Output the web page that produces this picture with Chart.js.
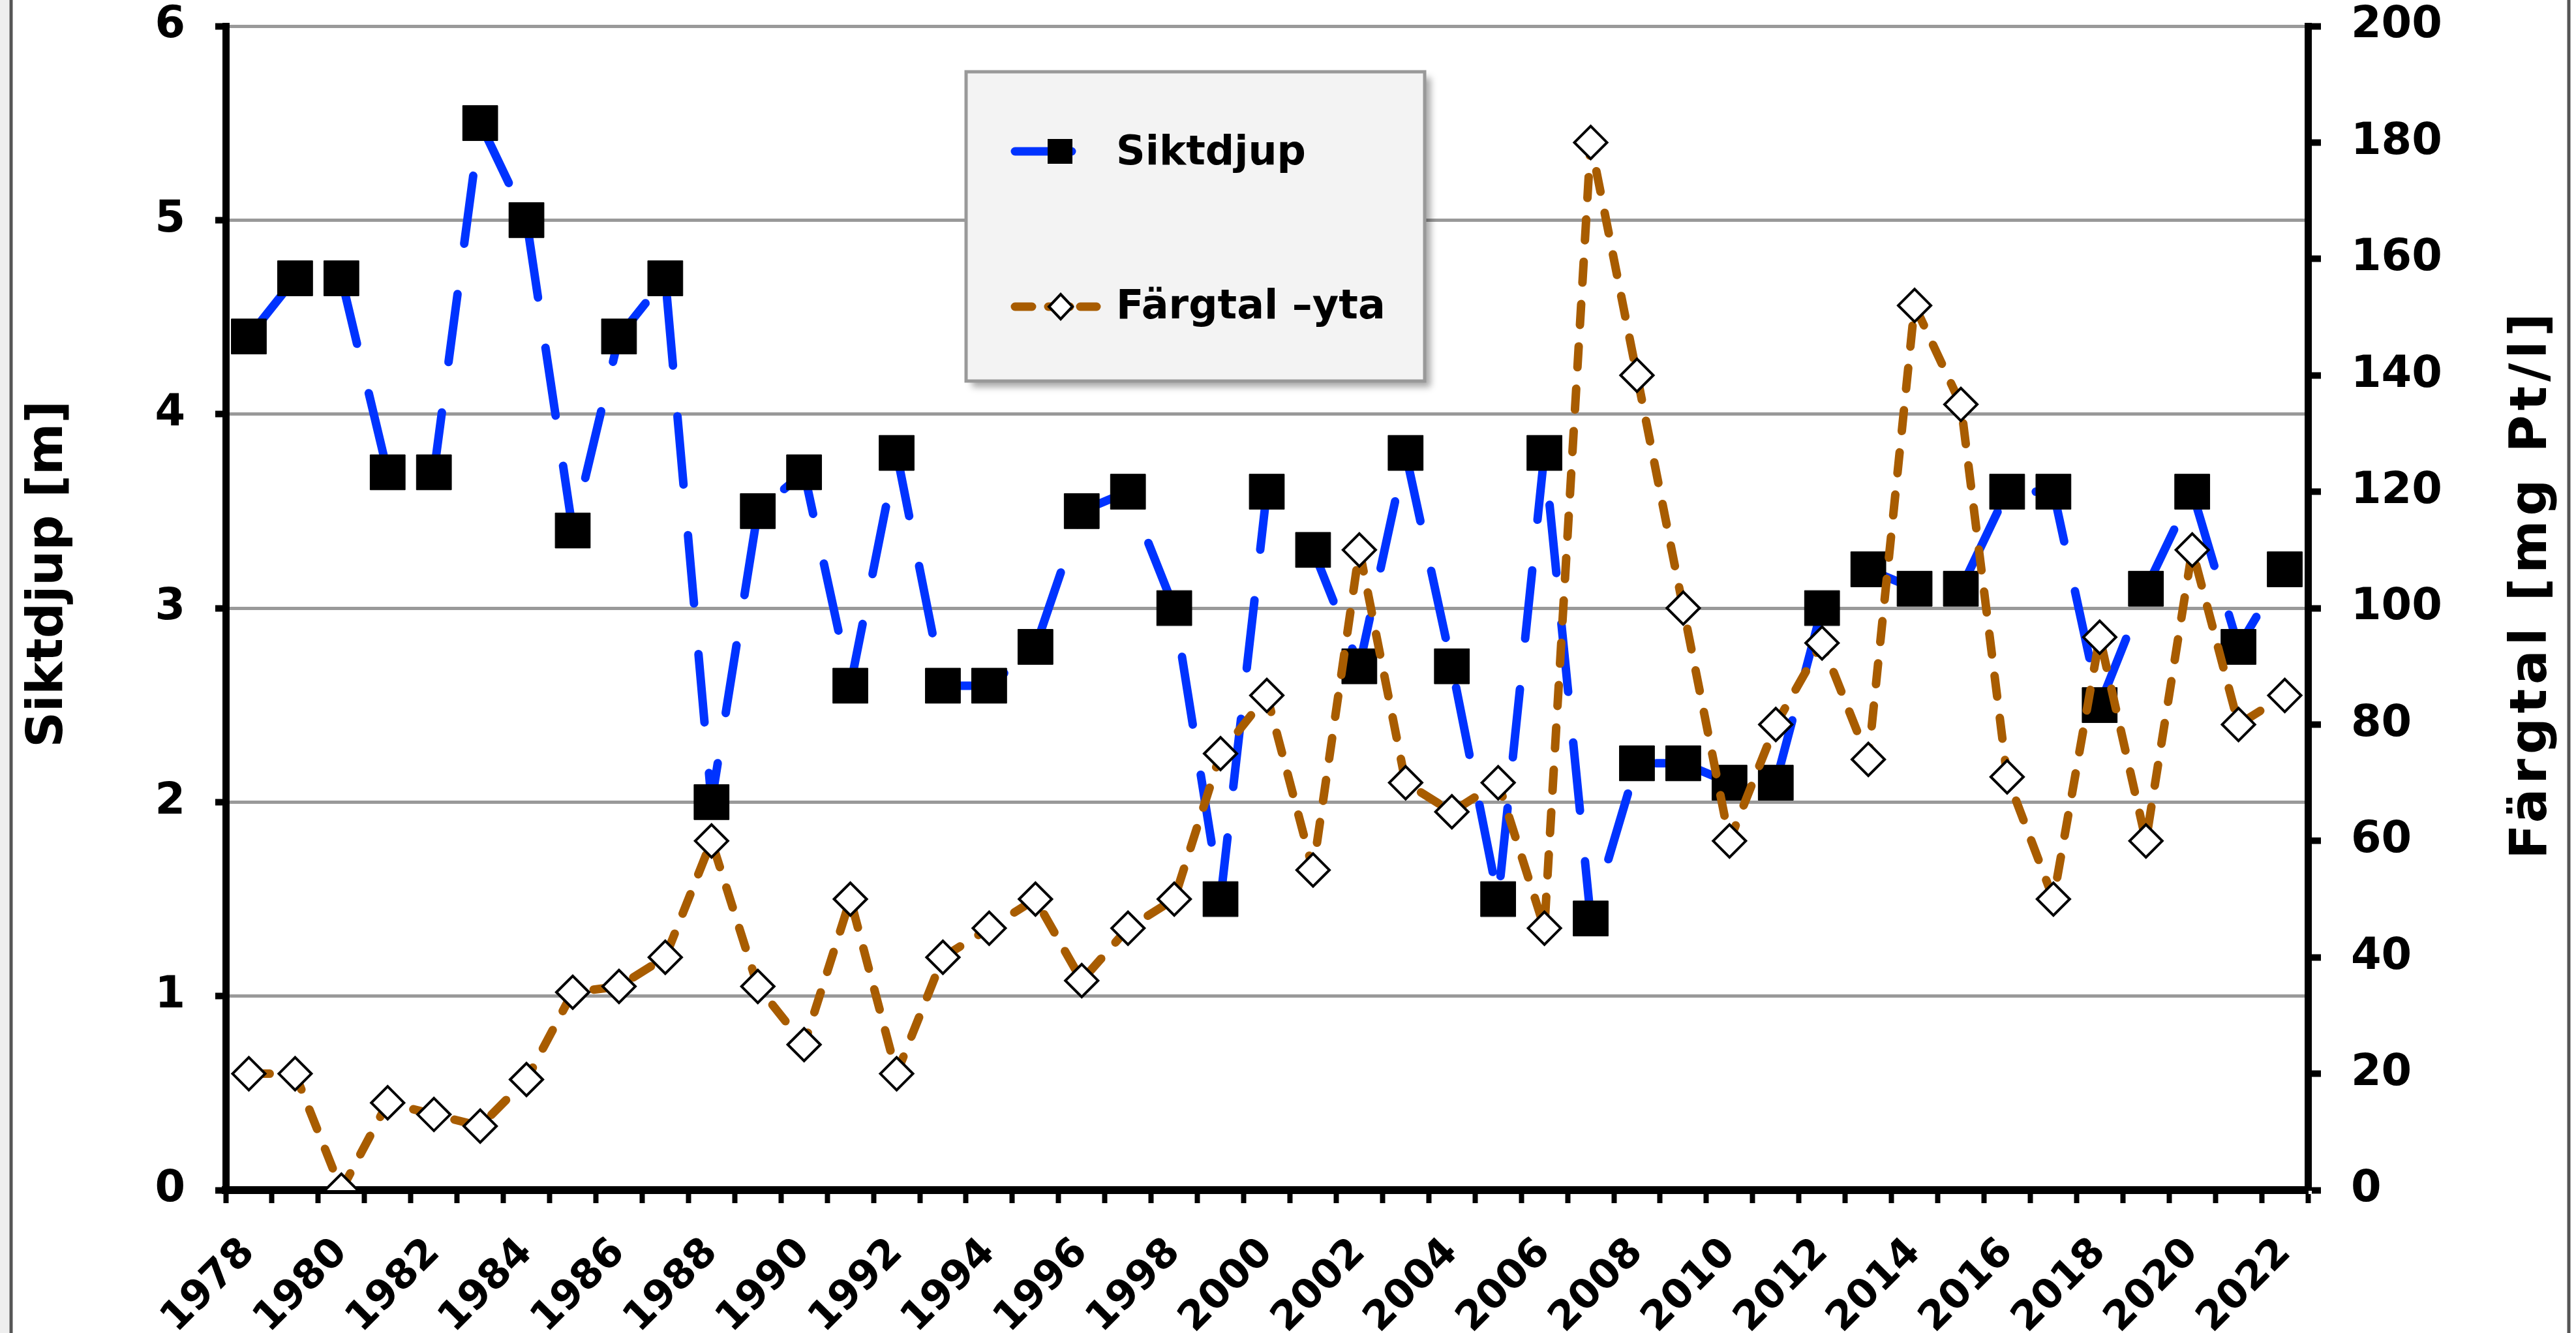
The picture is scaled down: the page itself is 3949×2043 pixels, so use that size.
<!DOCTYPE html>
<html>
<head>
<meta charset="utf-8">
<script src="https://cdn.jsdelivr.net/npm/chart.js@4.4.1/dist/chart.umd.min.js"></script>
<style>
  html, body { margin: 0; padding: 0; background: #fff; }
</style>
</head>
<body>
<canvas id="chart" width="3949" height="2043"></canvas>
<script>
// ------------------------
// Data
// ------------------------

const years = ['1978', '1979', '1980', '1981', '1982', '1983', '1984', '1985', '1986', '1987',
  '1988', '1989', '1990', '1991', '1992', '1993', '1994', '1995', '1996', '1997',
  '1998', '1999', '2000', '2001', '2002', '2003', '2004', '2005', '2006', '2007',
  '2008', '2009', '2010', '2011', '2012', '2013', '2014', '2015', '2016', '2017',
  '2018', '2019', '2020', '2021', '2022'];

// Siktdjup [m]
const siktdjup = [4.4, 4.7, 4.7, 3.7, 3.7, 5.5, 5.0, 3.4, 4.4, 4.7,
  2.0, 3.5, 3.7, 2.6, 3.8, 2.6, 2.6, 2.8, 3.5, 3.6,
  3.0, 1.5, 3.6, 3.3, 2.7, 3.8, 2.7, 1.5, 3.8, 1.4,
  2.2, 2.2, 2.1, 2.1, 3.0, 3.2, 3.1, 3.1, 3.6, 3.6,
  2.5, 3.1, 3.6, 2.8, 3.2];

// Färgtal –yta [mg Pt/l]
const fargtal = [20, 20, 0, 15, 13, 11, 19, 34, 35, 40,
  60, 35, 25, 50, 20, 40, 45, 50, 36, 45,
  50, 75, 85, 55, 110, 70, 65, 70, 45, 180,
  140, 100, 60, 80, 94, 74, 152, 135, 71, 50,
  95, 60, 110, 80, 85];

const seriesNames = ['Siktdjup', 'Färgtal \u2013yta'];
const axisTitles = ['Siktdjup [m]', 'Färgtal [mg Pt/l]'];

// ------------------------
// Chart setup
// ------------------------

const FONT = "'DejaVu Sans', Verdana, sans-serif";
Chart.defaults.font.family = FONT;
Chart.defaults.font.weight = 'bold';
Chart.defaults.color = '#000';

const BLUE = '#0033ff';
const BROWN = '#a85c00';

// outer frame of the chart
const framePlugin = {
  id: 'frame',
  beforeDraw(chart) {
    const c = chart.ctx;
    c.save();
    c.fillStyle = '#fff';
    c.fillRect(0, 0, chart.width, chart.height);
    c.fillStyle = '#eee';
    c.fillRect(0, 0, 14, chart.height);
    c.strokeStyle = '#555';
    c.lineWidth = 5;
    c.beginPath();
    c.moveTo(17, 0); c.lineTo(17, chart.height);
    c.moveTo(3938, 0); c.lineTo(3938, chart.height);
    c.stroke();
    c.restore();
  }
};

// both axis titles read bottom-to-top
const titlePlugin = {
  id: 'axisTitles',
  afterDraw(chart) {
    const c = chart.ctx;
    c.save();
    c.fillStyle = '#000';
    c.textAlign = 'center';
    c.textBaseline = 'middle';
    c.font = 'bold 76px ' + FONT;
    c.translate(75, 880);
    c.rotate(-Math.PI / 2);
    c.fillText(axisTitles[0], 0, 0);
    c.restore();

    c.save();
    c.fillStyle = '#000';
    c.textAlign = 'center';
    c.textBaseline = 'middle';
    c.font = 'bold 78px ' + FONT;
    c.letterSpacing = '7px';
    c.translate(3883, 895);
    c.rotate(-Math.PI / 2);
    c.fillText(axisTitles[1], 0, 0);
    c.restore();
  }
};

// boxed legend inside the plot
const legendPlugin = {
  id: 'boxLegend',
  afterDraw(chart) {
    const c = chart.ctx;
    const box = { x: 1481, y: 110, w: 703, h: 474 };
    c.save();
    c.shadowColor = 'rgba(0,0,0,0.35)';
    c.shadowBlur = 10;
    c.shadowOffsetX = 9;
    c.shadowOffsetY = 9;
    c.fillStyle = '#f3f3f3';
    c.fillRect(box.x, box.y, box.w, box.h);
    c.restore();

    c.save();
    c.strokeStyle = '#999';
    c.lineWidth = 5;
    c.strokeRect(box.x, box.y, box.w, box.h);

    // Siktdjup
    let y = 232;
    c.strokeStyle = BLUE;
    c.lineWidth = 13;
    c.lineCap = 'round';
    c.beginPath();
    c.moveTo(1556, y); c.lineTo(1643, y);
    c.stroke();
    c.fillStyle = '#000';
    c.fillRect(1606, y - 19, 38, 38);

    // Färgtal
    y = 470;
    c.strokeStyle = BROWN;
    c.lineWidth = 13;
    c.lineCap = 'round';
    c.beginPath();
    c.moveTo(1556, y); c.lineTo(1582, y);
    c.moveTo(1607, y); c.lineTo(1640, y);
    c.moveTo(1656, y); c.lineTo(1681, y);
    c.stroke();
    c.fillStyle = '#fff';
    c.strokeStyle = '#000';
    c.lineWidth = 4;
    c.beginPath();
    c.moveTo(1626, y - 19); c.lineTo(1644, y); c.lineTo(1626, y + 19); c.lineTo(1608, y);
    c.closePath();
    c.fill();
    c.stroke();

    c.fillStyle = '#000';
    c.font = 'bold 62px ' + FONT;
    c.textAlign = 'left';
    c.textBaseline = 'middle';
    c.fillText(seriesNames[0], 1711, 236);
    c.fillText(seriesNames[1], 1711, 472);
    c.restore();
  }
};

// fixed axis box sizes so the plot area lands where the original has it
function fixY(width) {
  return s => {
    s.width = width;
    s.paddingTop = 0;
    s.paddingBottom = 0;
  };
}

new Chart(document.getElementById('chart'), {
  type: 'line',
  data: {
    labels: years,
    datasets: [
      {
        label: seriesNames[0],
        data: siktdjup,
        yAxisID: 'y',
        order: 2,
        borderColor: BLUE,
        borderWidth: 13,
        borderDash: [105, 78],
        borderCapStyle: 'round',
        borderJoinStyle: 'round',
        pointStyle: 'rect',
        pointRadius: 38,
        pointBackgroundColor: '#000',
        pointBorderColor: '#000',
        pointBorderWidth: 1,
        tension: 0
      },
      {
        label: seriesNames[1],
        data: fargtal,
        yAxisID: 'y1',
        order: 1,
        borderColor: BROWN,
        borderWidth: 13,
        borderDash: [32, 33],
        borderCapStyle: 'round',
        borderJoinStyle: 'round',
        pointStyle: 'rectRot',
        pointRadius: 25,
        pointBackgroundColor: '#fff',
        pointBorderColor: '#000',
        pointBorderWidth: 4,
        tension: 0
      }
    ]
  },
  options: {
    responsive: false,
    animation: false,
    devicePixelRatio: 1,
    layout: { padding: { top: 40, left: 0, right: 0, bottom: 0 } },
    plugins: {
      legend: { display: false },
      tooltip: { enabled: false }
    },
    scales: {
      x: {
        offset: true,
        grid: { offset: true, drawOnChartArea: false, tickLength: 20, tickWidth: 8, tickColor: '#000' },
        border: { color: '#000', width: 12 },
        ticks: {
          autoSkip: false,
          minRotation: 45,
          maxRotation: 45,
          padding: 40,
          font: { size: 62 },
          callback: (v, i) => (i % 2 === 0 ? years[i] : '')
        },
        afterFit: s => { s.height = 219; }
      },
      y: {
        position: 'left',
        min: 0,
        max: 6,
        ticks: { stepSize: 1, padding: 46, font: { size: 67 } },
        grid: { color: '#999', lineWidth: 5, tickLength: 16, tickWidth: 10, tickColor: '#000' },
        border: { color: '#000', width: 11 },
        afterFit: fixY(346)
      },
      y1: {
        position: 'right',
        min: 0,
        max: 200,
        ticks: { stepSize: 20, padding: 46, font: { size: 67 } },
        grid: { drawOnChartArea: false, tickLength: 20, tickWidth: 10, tickColor: '#000' },
        border: { color: '#000', width: 11 },
        afterFit: fixY(411)
      }
    }
  },
  plugins: [framePlugin, titlePlugin, legendPlugin]
});
</script>
</body>
</html>
